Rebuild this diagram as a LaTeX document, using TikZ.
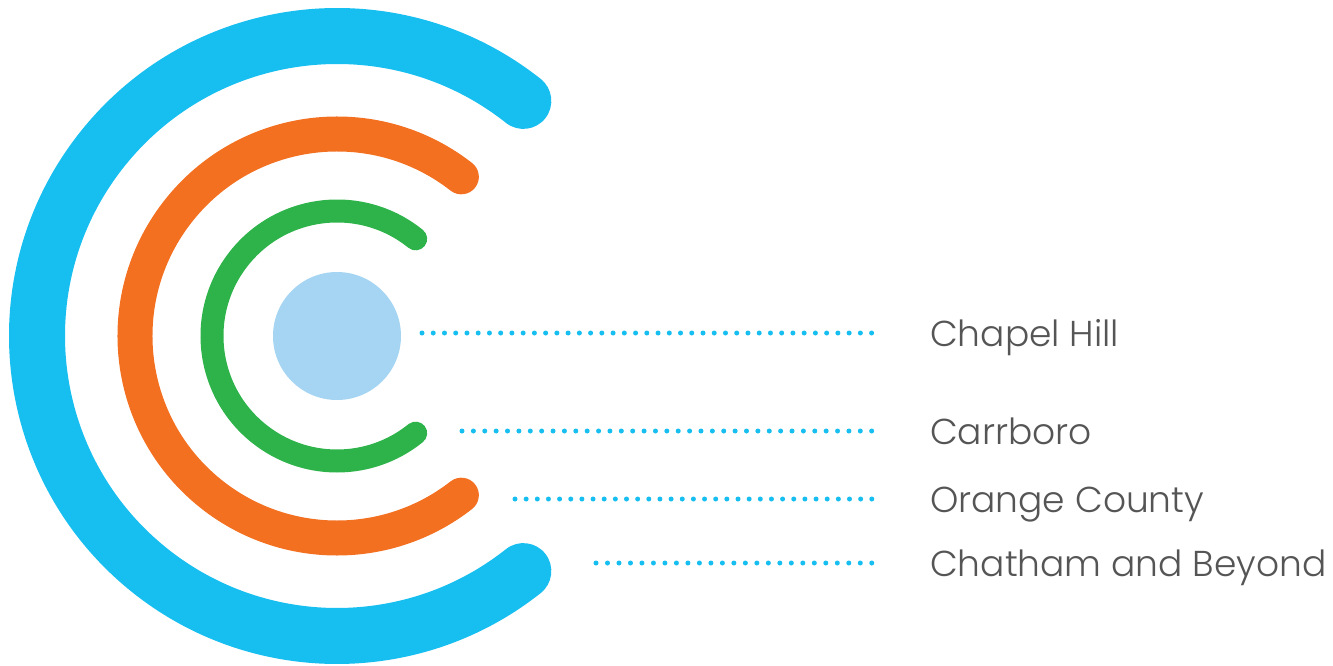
\documentclass[tikz,border=0pt]{standalone}
\usepackage{fontspec}
\newfontfamily\placefont{Poppins}[UprightFont={* Light}]
\definecolor{ringblue}{HTML}{17BEF0}
\definecolor{ringorange}{HTML}{F37021}
\definecolor{ringgreen}{HTML}{2DB34A}
\definecolor{corefill}{HTML}{A5D5F3}
\definecolor{placegray}{HTML}{555555}
\tikzstyle{ring} = [line cap=round]
\tikzstyle{place} = [anchor=west, inner xsep=58pt, inner ysep=0pt, text height=27pt, text depth=0pt, font=\placefont\fontsize{36}{43}\selectfont, text=placegray]
\tikzstyle{leader} = [ringblue, line width=5pt, line cap=round]

\begin{document}
\begin{tikzpicture}[x=1pt, y=1pt]
    \useasboundingbox (-337,-329) rectangle (996,336);

    % Rings.
    \draw [ring, ringblue, line width=56pt] (51.6:300) arc [start angle=51.6, end angle=308.4, radius=300];
    \draw [ring, ringorange, line width=35pt] (52:202) arc [start angle=52, end angle=308, radius=202];
    \draw [ring, ringgreen, line width=23pt] (51:125) arc [start angle=51, end angle=309, radius=125];
    \node (core) [circle, fill=corefill, minimum size=128pt, inner sep=0pt] at (0,0) {};

    % Places.
    \node (chapel) [place] at (535,3) {Chapel Hill};
    \node (carrboro) [place] at (535,-95) {Carrboro};
    \node (orange) [place] at (535,-163) {Orange County};
    \node (chatham) [place] at (535,-227) {Chatham and Beyond};

    % Leaders.
    \foreach \p/\x/\gap in {chapel/85/11.24, carrboro/125/11.38, orange/178/11.15, chatham/259/11.49} {
        \coordinate (\p start) at (\x, 0 |- \p.west);
        \draw [leader, dash pattern=on 0pt off \gap pt] (\p start) -- (\p);
    }
\end{tikzpicture}
\end{document}
